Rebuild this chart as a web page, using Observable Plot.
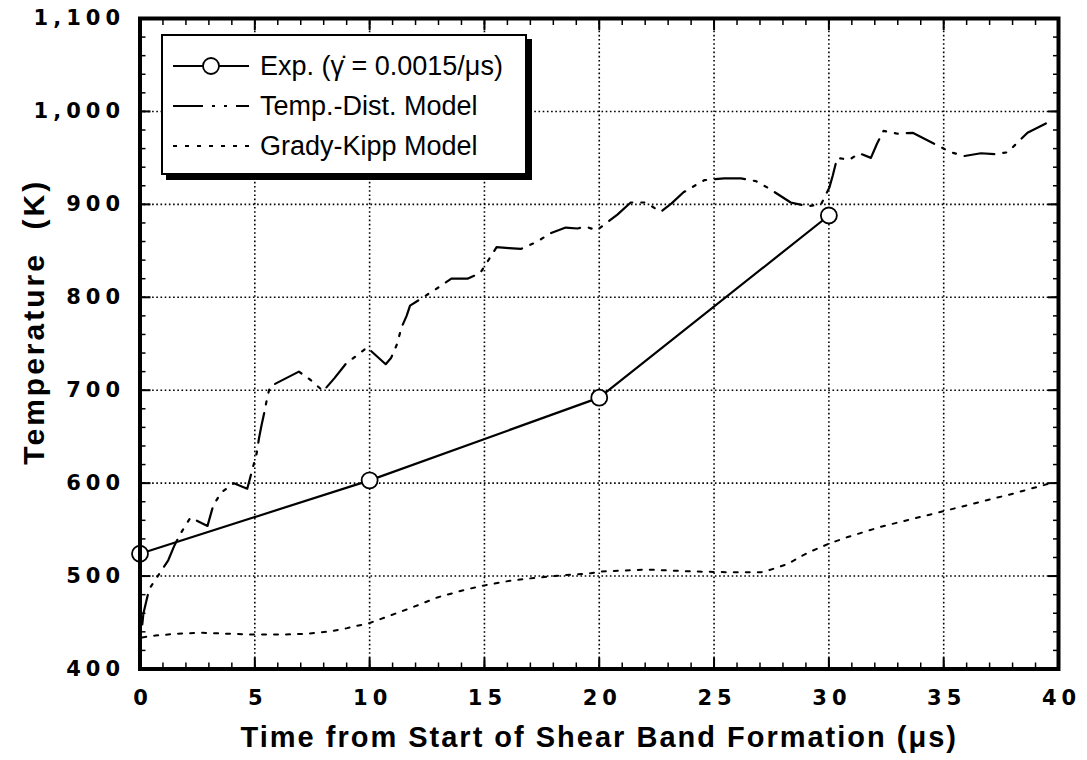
<!DOCTYPE html>
<html><head><meta charset="utf-8">
<script src="https://cdn.jsdelivr.net/npm/d3@7"></script>
<script src="https://cdn.jsdelivr.net/npm/@observablehq/plot@0.6"></script>
<style>
html,body{margin:0;padding:0;background:#fff;}
#wrap{position:relative;width:1087px;height:760px;overflow:hidden;}
#legend{position:absolute;left:161px;top:34px;width:362px;height:137px;background:#fff;border:2px solid #000;box-shadow:5px 5px 0 #000;}
#legend svg{display:block;}
.chart [aria-label$="tick label"] text{font-family:'DejaVu Sans',sans-serif;font-weight:bold;font-size:21px;letter-spacing:5px;fill:#000;}
.chart g[aria-label="text"] text{font-family:'Liberation Sans',Arial,sans-serif;font-weight:bold;font-size:29px;letter-spacing:2px;fill:#000;white-space:pre;}
</style></head><body><div id="wrap"></div>
<script>
// ---- data ----
const expTime = [0, 10, 20, 30];
const expTemp = [524, 603, 692, 888];

const tdTime = [0.1,0.15,0.4,1.23,1.5,1.77,2.2,2.94,3.19,3.54,4.09,4.67,5.08,5.18,5.29,5.43,5.54,5.66,6.92,7.43,7.98,8.47,8.95,9.89,10.7,10.94,11.2,11.38,11.61,11.76,12.65,13.02,13.56,14.26,14.81,15.15,15.53,16.07,16.58,17.23,17.89,18.54,19.05,19.41,19.89,20.79,21.37,22.02,22.68,23.15,23.67,24.57,25.44,26.17,26.82,27.33,28.34,29.07,29.66,30.02,30.17,30.31,30.38,30.89,31.32,31.83,32.09,32.38,32.99,33.65,35.32,35.9,36.62,37.23,37.78,38.65,39.45];
const tdTemp = [448,460,486,517,533,546,563,554,576,590,600,594,632,648,662,678,692,704,720,711,699,713,728,746,728,735,750,767,780,791,805,811,820,820,826,839,854,853,852,859,869,875,874,876,872,889,902,902,892,901,913,926,928,928,925,918,902,898,900,918,931,945,950,948,955,950,965,979,976,977,956,952,955,954,956,977,987];

const gkTime = [0.1,0.67,1.62,2.71,3.8,4.96,6.27,7.28,8.3,9.02,10,10.95,11.93,12.95,14.11,15,16.12,17.16,18.47,19.63,20.06,22.1,24,25.87,27.04,27.62,28.2,29.07,30.02,30.82,32.26,33.72,35.03,36.62,38.07,39.52];
const gkTemp = [434,436,438,439,438,437,437,438,440.5,444,449.5,458,467,477,485,490,495,498,501,503,505,507,505,504,504,508,513,525,535,542,553,562,570,580,589,599];

const xTickValues = [0, 5, 10, 15, 20, 25, 30, 35, 40];
const yTickValues = [400, 500, 600, 700, 800, 900, 1000, 1100];
const xMinorTicks = d3.range(0, 41, 1);
const yMinorTicks = d3.range(400, 1101, 20);

const seriesNames = ["Exp. (γ̇ = 0.0015/μs)", "Temp.-Dist. Model", "Grady-Kipp Model"];
const xTitle = "Time from Start of Shear Band Formation (μs)";
const yTitle = "Temperature  (K)";

// ---- tables ----
const exp = expTime.map((t, i) => ({t, v: expTemp[i]}));
const td = tdTime.map((t, i) => ({t, v: tdTemp[i]}));
const gk = gkTime.map((t, i) => ({t, v: gkTemp[i]}));

const tdDash = "30,9,3,9,3,9";
const gkDash = "4,8";
const gridStyle = {stroke: "#000", strokeOpacity: 1, strokeWidth: 1.6, strokeDasharray: "1.6,2.6"};
const blank = () => "";

const chart = Plot.plot({
  className: "chart",
  width: 1087,
  height: 760,
  marginLeft: 139.5,
  marginRight: 29,
  marginTop: 18,
  marginBottom: 91.5,
  style: {background: "#fff", color: "#000", overflow: "visible"},
  x: {domain: [0, 40], label: null},
  y: {domain: [400, 1100], label: null},
  marks: [
    Plot.gridX(xTickValues, gridStyle),
    Plot.gridY(yTickValues, gridStyle),
    // minor inward ticks on four sides
    Plot.axisX(xMinorTicks, {anchor: "bottom", tickSize: -6, tickFormat: blank, strokeWidth: 1.5, label: null}),
    Plot.axisX(xMinorTicks, {anchor: "top", tickSize: -6, tickFormat: blank, strokeWidth: 1.5, label: null}),
    Plot.axisY(yMinorTicks, {anchor: "left", tickSize: -6, tickFormat: blank, strokeWidth: 1.5, label: null}),
    Plot.axisY(yMinorTicks, {anchor: "right", tickSize: -6, tickFormat: blank, strokeWidth: 1.5, label: null}),
    // major inward ticks
    Plot.axisX(xTickValues, {anchor: "bottom", tickSize: -11, tickFormat: blank, strokeWidth: 2, label: null}),
    Plot.axisX(xTickValues, {anchor: "top", tickSize: -11, tickFormat: blank, strokeWidth: 2, label: null}),
    Plot.axisY(yTickValues, {anchor: "left", tickSize: -11, tickFormat: blank, strokeWidth: 2, label: null}),
    Plot.axisY(yTickValues, {anchor: "right", tickSize: -11, tickFormat: blank, strokeWidth: 2, label: null}),
    // tick labels
    Plot.axisX(xTickValues, {anchor: "bottom", tickSize: 0, tickPadding: 21, dx: 3, tickFormat: d => String(d), label: null}),
    Plot.axisY(yTickValues, {anchor: "left", tickSize: 0, tickPadding: 15, tickFormat: d3.format(","), label: null}),
    // series
    Plot.line(gk, {x: "t", y: "v", stroke: "#000", strokeWidth: 2, strokeDasharray: gkDash}),
    Plot.line(td, {x: "t", y: "v", stroke: "#000", strokeWidth: 2.2, strokeDasharray: tdDash}),
    Plot.line(exp, {x: "t", y: "v", stroke: "#000", strokeWidth: 2.2}),
    Plot.dot(exp, {x: "t", y: "v", r: 8, fill: "#fff", stroke: "#000", strokeWidth: 1.8}),
    Plot.frame({stroke: "#000", strokeWidth: 4}),
    // axis titles
    Plot.text([xTitle], {text: d => d, frameAnchor: "bottom", dy: 69, lineAnchor: "middle", textAnchor: "middle"}),
    Plot.text([yTitle], {text: d => d, frameAnchor: "left", rotate: -90, dx: -106, dy: -22, lineAnchor: "middle", textAnchor: "middle"})
  ]
});

const wrap = document.getElementById("wrap");
wrap.appendChild(chart);
// y title slightly wider tracking
d3.select(chart).selectAll('g[aria-label="text"] text')
  .filter(function () { return this.textContent === yTitle; })
  .style("font-size", "30px").style("letter-spacing", "3px");

// ---- legend (inside the plot area, drawn as an overlay) ----
const legend = d3.select(wrap).append("div").attr("id", "legend");
const lsvg = legend.append("svg").attr("width", 362).attr("height", 137);
const rowY = [30, 70, 110];
const styles = [
  {dash: null, dot: true},
  {dash: tdDash, dot: false},
  {dash: gkDash, dot: false}
];
seriesNames.forEach((name, i) => {
  const g = lsvg.append("g").attr("transform", `translate(0,${rowY[i]})`);
  g.append("line").attr("x1", 10).attr("x2", 86).attr("y1", 0).attr("y2", 0)
    .attr("stroke", "#000").attr("stroke-width", 2)
    .attr("stroke-dasharray", styles[i].dash);
  if (styles[i].dot) {
    g.append("circle").attr("cx", 48).attr("cy", 0).attr("r", 8)
      .attr("fill", "#fff").attr("stroke", "#000").attr("stroke-width", 1.8);
  }
  g.append("text").attr("x", 97).attr("y", 9)
    .attr("font-family", "'Liberation Sans', Arial, sans-serif")
    .attr("font-size", 27).attr("fill", "#000").text(name);
});
</script>
</body></html>
